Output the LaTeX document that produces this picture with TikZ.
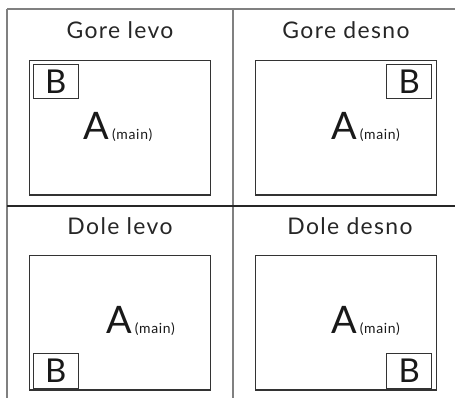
\documentclass[tikz,border=0pt]{standalone}
\usepackage{fontspec}
\setmainfont{Lato}
\begin{document}
\begin{tikzpicture}[x=1bp,y=-1bp,
  frame/.style={line width=1.8bp, draw=black!50},
  hline/.style={line width=1.3bp, draw=black!85},
  screen/.style={draw=black!80, line width=1.1bp, minimum width=181bp, minimum height=134.3bp, inner sep=0, outer sep=0, anchor=north west},
  bbox/.style={draw=black!80, line width=1bp, minimum width=45bp, minimum height=34.5bp, inner sep=0, outer sep=0, font=\fontsize{33}{33}\selectfont, anchor=north west, text=black!90},
  title/.style={font=\fontsize{23}{23}\selectfont\addfontfeature{LetterSpace=6}, anchor=base, inner sep=0, text=black!85},
  alabel/.style={anchor=base west, inner sep=0, font=\fontsize{38}{38}\selectfont, text=black!90}
]
\newcommand{\mainlbl}{{\fontsize{14}{14}\selectfont\addfontfeature{LetterSpace=5}(main)}}
\useasboundingbox (0,0) rectangle (455,398);
% outer table lines
\coordinate (tlc) at (7,9);
\coordinate (trc) at (455,9);
\coordinate (blc) at (7,398);
\coordinate (tm) at (233,9);
\coordinate (bm) at (233,398);
\coordinate (ml) at (7,206);
\coordinate (mr) at (455,206);
\draw[frame] (tlc) -- (trc);
\draw[frame] (tlc) -- (blc);
\draw[frame] (tm) -- (bm);
\draw[hline] (ml) -- (mr);
% titles
\node[title] (t1) at (120,38.3) {Gore levo};
\node[title] (t2) at (346,38.3) {Gore desno};
\node[title] (t3) at (120,234) {Dole levo};
\node[title] (t4) at (350,234) {Dole desno};
% screens
\node[screen] (s1) at (29.3,60.7) {};
\node[screen] (s2) at (255.7,60.7) {};
\node[screen] (s3) at (29.3,255.7) {};
\node[screen] (s4) at (255.7,255.7) {};
% B boxes
\node[bbox] (b1) at (33.3,64.3) {B};
\node[bbox] (b2) at (386.7,64.3) {B};
\node[bbox] (b3) at (33.3,353.5) {B};
\node[bbox] (b4) at (386.7,353.5) {B};
% A labels
\node[alabel] (a1) at (83.3,139.3) {A\hspace{3bp}\mainlbl};
\node[alabel] (a2) at (331,139.3) {A\hspace{3bp}\mainlbl};
\node[alabel] (a3) at (106,333.3) {A\hspace{3bp}\mainlbl};
\node[alabel] (a4) at (331,333.3) {A\hspace{3bp}\mainlbl};
\end{tikzpicture}
\end{document}
